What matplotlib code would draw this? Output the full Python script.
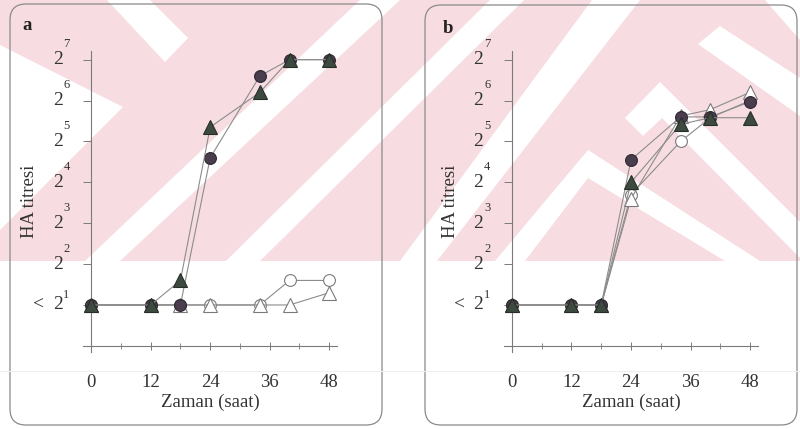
import numpy as np
import matplotlib
matplotlib.use("Agg")
import matplotlib.pyplot as plt
from matplotlib.patches import Polygon, Rectangle, FancyBboxPatch

# ---- data (exponent of 2 for the HA titre) ----
hours = [0, 12, 18, 24, 34, 40, 48]

a_filled_circle = [1, 1, 1, 4.6, 6.6, 7.0, 7.0]
a_filled_triangle = [1, 1, 1.6, 5.35, 6.2, 7.0, 7.0]
a_open_circle = [1, 1, 1, 1, 1, 1.6, 1.6]
a_open_triangle = [1, 1, 1, 1, 1, 1, 1.3]

b_filled_circle = [1, 1, 1, 4.55, 5.6, 5.6, 5.97]
b_filled_triangle = [1, 1, 1, 4.0, 5.42, 5.58, 5.58]
b_open_circle = [1, 1, 1, 3.7, 5.0, 5.58, 6.0]
b_open_triangle = [1, 1, 1, 3.6, 5.62, 5.78, 6.2]

x_ticks = [0, 12, 24, 36, 48]
x_minor = [6, 18, 30, 42]
y_levels = [1, 2, 3, 4, 5, 6, 7]
y_base = ["2"] * 7
y_exp = ["1", "2", "3", "4", "5", "6", "7"]

panel_letters = ["a", "b"]
x_label = "Zaman (saat)"
y_label = "HA titresi"

FONT = "Liberation Serif"
TXT = "#333333"
LINE = "#8c8c8c"
PINK = "#f7dde2"

DPI = 100
fig = plt.figure(figsize=(800 / DPI, 429 / DPI), dpi=DPI, facecolor="white")

# ---- background: scanned page with pink watermark (pixel coords) ----
bg = fig.add_axes([0, 0, 1, 1], zorder=-5)
bg.set_xlim(0, 800)
bg.set_ylim(429, 0)
bg.axis("off")
bg.add_patch(Rectangle((0, 0), 800, 261, facecolor=PINK, edgecolor="none"))
white_shapes = [
    [(107, 0), (150, 0), (188, 38), (165, 62)],
    [(0, 45), (123, 107), (0, 230)],
    [(360, 0), (400, 0), (120, 261), (85, 261)],
    [(490, 0), (524, 0), (260, 261), (226, 261)],
    [(592, 0), (640, 0), (437, 261), (400, 261)],
    [(588, 150), (760, 261), (725, 261), (588, 178), (525, 261), (495, 261)],
    [(660, 82), (800, 222), (800, 258), (662, 118), (643, 136), (625, 118)],
    [(698, 44), (720, 26), (800, 78), (800, 116)],
    [(765, 0), (800, 0), (800, 40)],
]
for pts in white_shapes:
    bg.add_patch(Polygon(pts, closed=True, facecolor="white", edgecolor="none"))
bg.plot([0, 800], [371, 371], color="#f0f0f0", lw=0.8)
for (bx, by, bw, bh) in [(10, 4, 372, 421), (425, 5, 372, 420)]:
    bg.add_patch(FancyBboxPatch((bx, by), bw, bh,
                                boxstyle="round,pad=0,rounding_size=16",
                                facecolor="none", edgecolor="#8a8a8a", lw=0.9))

# ---- panels ----
panels = [
    (0.104, [a_open_circle, a_open_triangle, a_filled_circle, a_filled_triangle]),
    (0.630, [b_open_circle, b_open_triangle, b_filled_circle, b_filled_triangle]),
]
styles = [
    dict(marker="o", mfc="white", mec="#7a7a7a", ms=8.5, zorder=3),
    dict(marker="^", mfc="white", mec="#7a7a7a", ms=9.5, zorder=3),
    dict(marker="o", mfc="#4a3d4e", mec="#2e2630", ms=8.5, zorder=4),
    dict(marker="^", mfc="#3d4a40", mec="#262e28", ms=9.5, zorder=5),
]

for i, (left, series) in enumerate(panels):
    ax = fig.add_axes([left, 0.1795, 0.3175, 0.7005])
    ax.set_facecolor("none")
    for vals, st in zip(series, styles):
        ax.plot(hours, vals, color=LINE, lw=0.8, mew=0.8, **st)

    ax.set_xlim(-1.6, 49.6)
    ax.set_ylim(-0.15, 7.2)
    for s in ("top", "right"):
        ax.spines[s].set_visible(False)
    ax.spines["left"].set_position(("data", 0))
    ax.spines["bottom"].set_position(("data", 0))
    for s in ("left", "bottom"):
        ax.spines[s].set_color("#7a7a7a")
        ax.spines[s].set_linewidth(0.8)

    ax.set_xticks(x_ticks)
    ax.set_xticks(x_minor, minor=True)
    ax.set_xticklabels([str(t) for t in x_ticks], family=FONT, fontsize=13.5, color=TXT)
    ax.tick_params(axis="x", which="major", direction="inout", length=6, width=0.7,
                   color="#7a7a7a", pad=17)
    ax.tick_params(axis="x", which="minor", direction="inout", length=4, width=0.6,
                   color="#7a7a7a")

    ax.set_yticks(y_levels)
    ax.set_yticklabels([])
    ax.tick_params(axis="y", direction="out", length=6, width=0.7, color="#7a7a7a")
    for lv, base, ex in zip(y_levels, y_base, y_exp):
        ax.annotate(base, xy=(0, lv), xycoords="data", xytext=(-20.5, 0),
                    textcoords="offset points", ha="right", va="center",
                    family=FONT, fontsize=14, color=TXT)
        ax.annotate(ex, xy=(0, lv), xycoords="data", xytext=(-20, 11 if lv > 1 else 7),
                    textcoords="offset points", ha="left", va="center",
                    family=FONT, fontsize=9, color=TXT)
    ax.annotate("<", xy=(0, y_levels[0]), xycoords="data", xytext=(-34, 0),
                textcoords="offset points", ha="right", va="center",
                family=FONT, fontsize=14, color=TXT)

    ax.set_xlabel(x_label, family=FONT, fontsize=13.5, color=TXT)
    ax.xaxis.set_label_coords(0.5, -0.14)
    ax.set_ylabel(y_label, family=FONT, fontsize=13.5, color=TXT)
    ax.yaxis.set_label_coords(-0.178, 0.5)

    ax.text(-0.22, 1.085 if i == 0 else 1.075, panel_letters[i], transform=ax.transAxes,
            family=FONT, fontsize=13.5, fontweight="bold", color="#222222",
            ha="center", va="center")

fig.savefig("out.png", dpi=DPI, facecolor="white")
